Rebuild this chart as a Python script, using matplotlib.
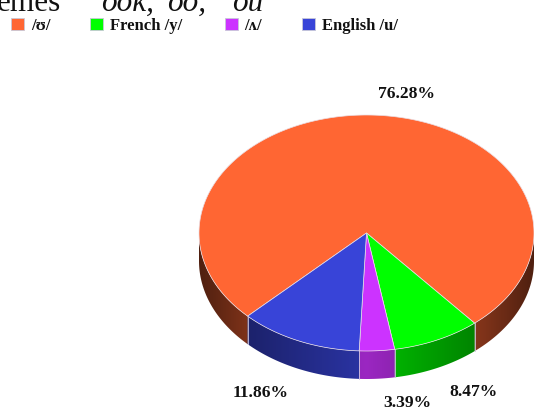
import numpy as np
import matplotlib
matplotlib.use("Agg")
import matplotlib.pyplot as plt
from matplotlib.colors import to_rgb
from matplotlib.patches import Polygon, Rectangle

plt.rcParams['font.family'] = ['Liberation Serif', 'DejaVu Serif']

labels = ["/ʊ/", "French /y/", "/ʌ/", "English /u/"]
values = [76.28, 8.47, 3.39, 11.86]
value_labels = ["76.28%", "8.47%", "3.39%", "11.86%"]
colors = ["#ff6633", "#00ff00", "#cc33ff", "#3844d8"]

# layout in pixels, y pointing down
cx, cy = 366.5, 233
rx, ry = 167.5, 118
depth = 28
start_angle = -135.2
legend_x = [11, 90, 225, 302]
legend_text_x = [31, 110, 244, 322]
label_pos = [(406.5, 94), (473.5, 391.5), (407, 403), (261, 393)]

fig = plt.figure(figsize=(5.34, 4.08), dpi=100)
ax = fig.add_axes([0, 0, 1, 1])


def rim(a):
    # screen position of a pie angle (degrees, counter clockwise)
    r = np.radians(a)
    return cx + rx * np.cos(r), cy - ry * np.sin(r)


def shade(x):
    # side wall gets darker towards the outer edges
    t = np.abs(x - cx) / rx
    return np.interp(t, [0, 0.7, 1.0], [0.76, 0.5, 0.31])


# slice limits, going clockwise
ends = start_angle - np.cumsum(values) / sum(values) * 360
starts = np.concatenate([[start_angle], ends[:-1]])

# side wall, only the front half shows
px = np.arange(0, 535)
for a0, a1, col in zip(starts, ends, colors):
    for off in (0, -360):
        hi = min(a0 - off, 0)
        lo = max(a1 - off, -180)
        if hi <= lo:
            continue
        aa = np.linspace(hi, lo, 200)
        xs, ys = rim(aa)
        outline = list(zip(xs, ys)) + list(zip(xs[::-1], ys[::-1] + depth))
        grad = np.outer(shade(px), np.array(to_rgb(col)))[np.newaxis, :, :]
        im = ax.imshow(grad, extent=(0, 534, 408, 0), aspect='auto', interpolation='bilinear', zorder=1)
        wall = Polygon(outline, closed=True, transform=ax.transData, facecolor='none', edgecolor='none')
        ax.add_patch(wall)
        im.set_clip_path(wall)
        # light seam where two slices meet
        for a in (hi, lo):
            if a not in (0, -180):
                x, y = rim(a)
                ax.plot([x, x], [y, y + depth], color="#d0c8e0", lw=0.6, alpha=0.7, zorder=2)

# top face
for a0, a1, col in zip(starts, ends, colors):
    aa = np.linspace(a0, a1, 300)
    xs, ys = rim(aa)
    pts = [(cx, cy)] + list(zip(xs, ys))
    ax.add_patch(Polygon(pts, closed=True, facecolor=col, edgecolor="#eadfe6", lw=0.5, zorder=3))

# legend
for x, tx, lab, col in zip(legend_x, legend_text_x, labels, colors):
    ax.add_patch(Rectangle((x, 18), 13, 12, facecolor=col, edgecolor="#c8c8d8", lw=0.6))
    ax.text(tx, 25.5, lab, fontsize=12, fontweight='bold', color="#111111", ha='left', va='center')

# value labels
for (x, y), txt in zip(label_pos, value_labels):
    ax.text(x, y, txt, fontsize=12.6, fontweight='bold', color="#111111", ha='center', va='center')

# heading cut off by the crop
ax.text(-3, 11, "emes", fontsize=22.5, color="#111111", ha='left', va='baseline')
ax.text(101, 11, "ook,", fontsize=22.5, style='italic', color="#111111", ha='left', va='baseline')
ax.text(167, 11, "oo,", fontsize=22.5, style='italic', color="#111111", ha='left', va='baseline')
ax.text(232, 11, "ou", fontsize=22.5, style='italic', color="#111111", ha='left', va='baseline')

ax.set_xlim(0, 534)
ax.set_ylim(408, 0)
ax.axis('off')

fig.savefig("out.png", dpi=100)
